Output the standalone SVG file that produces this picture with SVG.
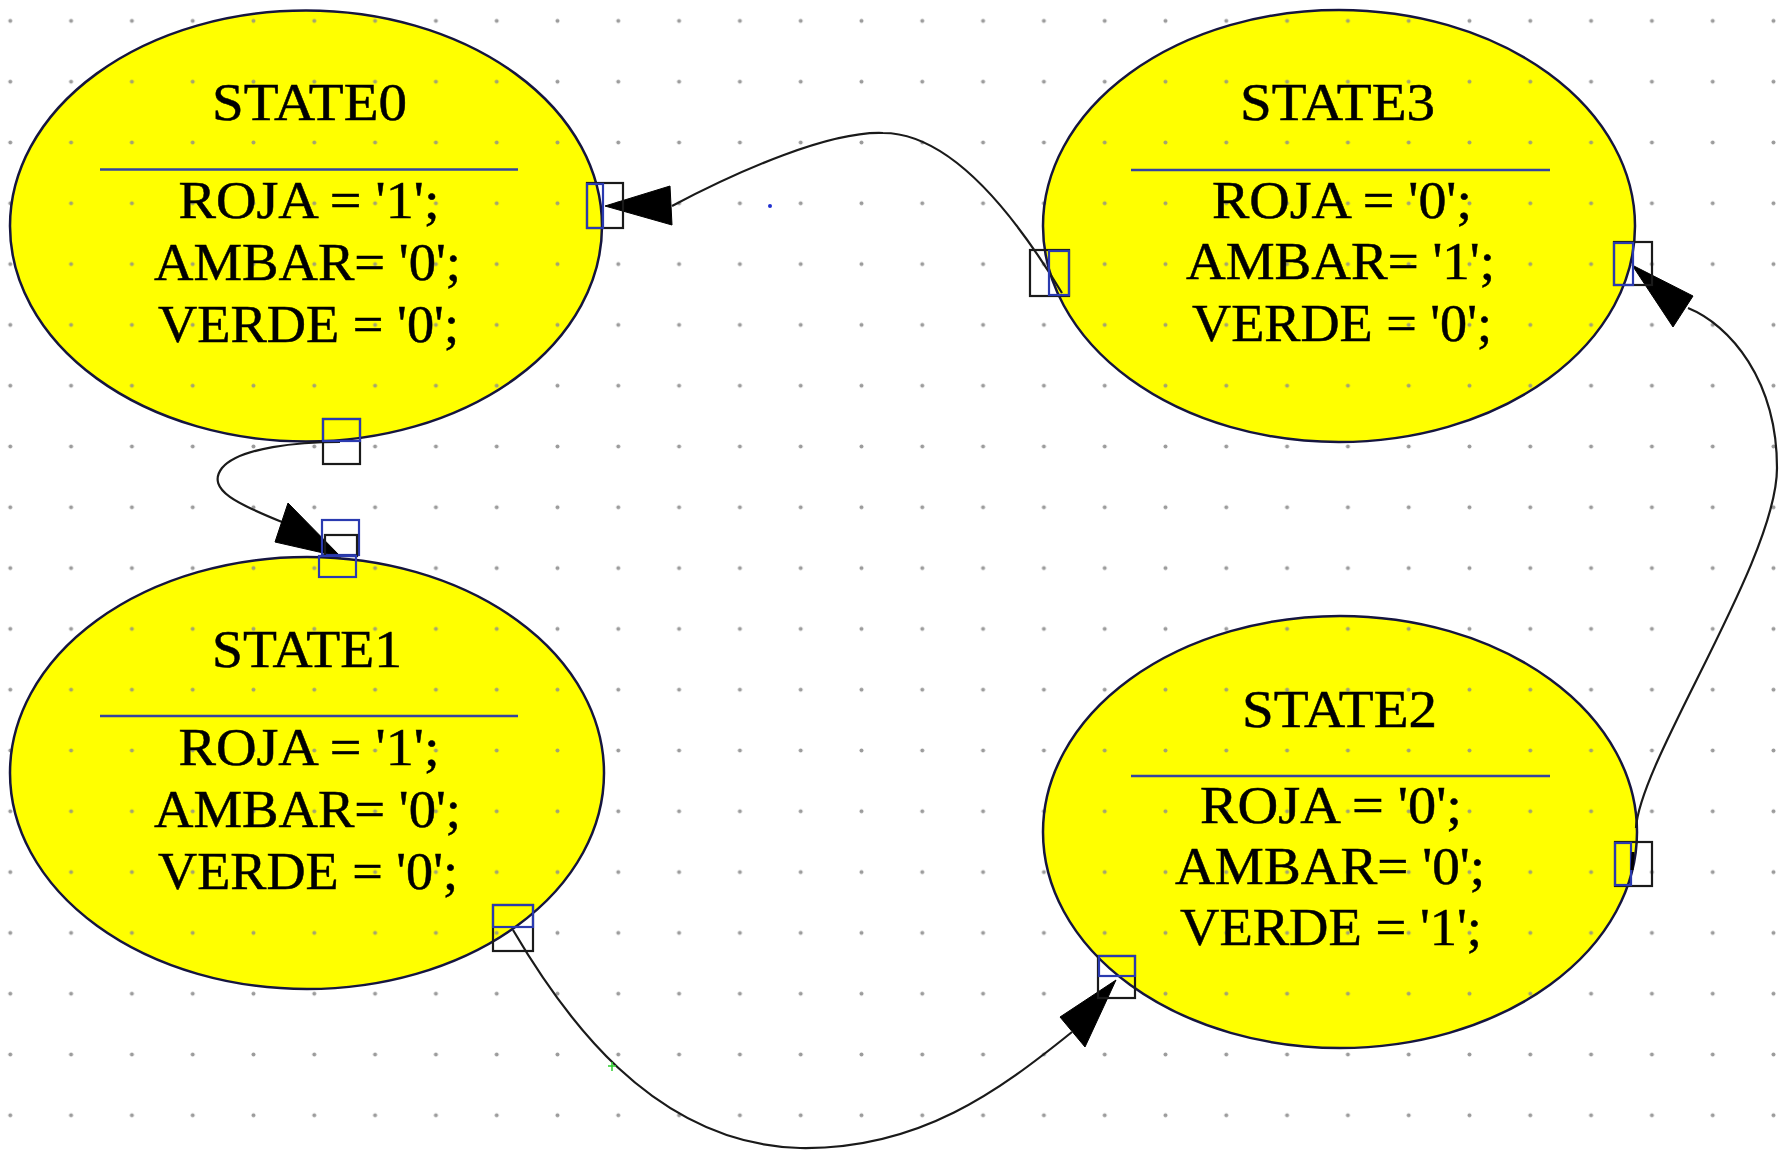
<svg xmlns="http://www.w3.org/2000/svg" width="1782" height="1151" viewBox="0 0 1782 1151">
<defs>
<pattern id="gridW" patternUnits="userSpaceOnUse" x="-20.1" y="-9.5" width="60.8" height="60.8">
<rect width="60.8" height="60.8" fill="#ffffff"/>
<circle cx="30.4" cy="30.4" r="2" fill="#9c9c9c"/>
</pattern>
<pattern id="gridY" patternUnits="userSpaceOnUse" x="-20.1" y="-9.5" width="60.8" height="60.8">
<rect width="60.8" height="60.8" fill="#ffff00"/>
<circle cx="30.4" cy="30.4" r="2" fill="#a4a470"/>
</pattern>
<style>
.ell{fill:url(#gridY);stroke:#15153f;stroke-width:2.5}
.div{stroke:#3444a0;stroke-width:2.5}
text{font-family:"Liberation Serif","Times New Roman",serif;font-size:52px;fill:#000;stroke:#000;stroke-width:0.5}
.pb{fill:none;stroke:#1a1a1a;stroke-width:2.2}
.pu{fill:none;stroke:#2a3ab0;stroke-width:2.2}
.wire{fill:none;stroke:#1a1a1a;stroke-width:2.2}
.head{fill:#000;stroke:#000;stroke-width:1}
</style>
</defs>
<rect x="0" y="0" width="1782" height="1151" fill="url(#gridW)"/>

<g id="state0">
<ellipse class="ell" cx="306" cy="226" rx="296" ry="215.5"/>
<text x="212" y="120" textLength="195" lengthAdjust="spacingAndGlyphs">STATE0</text>
<line class="div" x1="100" y1="169.5" x2="518" y2="169.5"/>
<text x="178.5" y="218" textLength="261" lengthAdjust="spacingAndGlyphs">ROJA = '1';</text>
<text x="154" y="280" textLength="307" lengthAdjust="spacingAndGlyphs">AMBAR= '0';</text>
<text x="158" y="342" textLength="301" lengthAdjust="spacingAndGlyphs">VERDE = '0';</text>
</g>

<g id="state3">
<ellipse class="ell" cx="1339" cy="226" rx="296" ry="216"/>
<text x="1240" y="120" textLength="195" lengthAdjust="spacingAndGlyphs">STATE3</text>
<line class="div" x1="1131" y1="170" x2="1550" y2="170"/>
<text x="1212" y="217.5" textLength="260" lengthAdjust="spacingAndGlyphs">ROJA = '0';</text>
<text x="1186" y="279" textLength="309" lengthAdjust="spacingAndGlyphs">AMBAR= '1';</text>
<text x="1192" y="341" textLength="300" lengthAdjust="spacingAndGlyphs">VERDE = '0';</text>
</g>

<g id="state1">
<ellipse class="ell" cx="307" cy="773" rx="297" ry="216"/>
<text x="212" y="667" textLength="190" lengthAdjust="spacingAndGlyphs">STATE1</text>
<line class="div" x1="100" y1="716" x2="518" y2="716"/>
<text x="178.5" y="765" textLength="261" lengthAdjust="spacingAndGlyphs">ROJA = '1';</text>
<text x="154" y="827" textLength="307" lengthAdjust="spacingAndGlyphs">AMBAR= '0';</text>
<text x="158" y="889" textLength="300" lengthAdjust="spacingAndGlyphs">VERDE = '0';</text>
</g>

<g id="state2">
<ellipse class="ell" cx="1340" cy="832" rx="297" ry="216"/>
<text x="1242" y="727" textLength="195" lengthAdjust="spacingAndGlyphs">STATE2</text>
<line class="div" x1="1131" y1="776" x2="1550" y2="776"/>
<text x="1200" y="823" textLength="262" lengthAdjust="spacingAndGlyphs">ROJA = '0';</text>
<text x="1175" y="884" textLength="310" lengthAdjust="spacingAndGlyphs">AMBAR= '0';</text>
<text x="1180" y="945" textLength="302" lengthAdjust="spacingAndGlyphs">VERDE = '1';</text>
</g>

<g id="connectors">
<path class="wire" d="M1062,293 C1030,240 960,133 883,133 C830,131 740,170 672,206"/>
<polygon class="head" points="605,206 670,186 672,225"/>
<path class="wire" d="M340,442 C300,442 240,447 222,468 C205,490 240,505 282,522"/>
<polygon class="head" points="288,503 275,542 341,557"/>
<path class="wire" d="M513,930 C560,1010 650,1144 800,1148 C920,1150 1000,1090 1072,1032"/>
<polygon class="head" points="1060,1017 1085,1047 1116,980"/>
<path class="wire" d="M1636,828 C1640,760 1777,560 1777,468 C1777,380 1730,325 1688,308"/>
<polygon class="head" points="1632,265 1693,296 1673,327"/>

<rect class="pb" x="587" y="183" width="36" height="45"/>
<rect class="pu" x="587" y="184" width="16" height="44"/>
<rect class="pb" x="1030" y="250" width="39" height="46"/>
<rect class="pu" x="1049" y="251" width="20" height="44"/>
<rect class="pb" x="1614" y="242" width="38" height="43"/>
<rect class="pu" x="1614" y="243" width="19" height="42"/>
<rect class="pb" x="1615" y="842" width="37" height="44"/>
<rect class="pu" x="1615" y="843" width="16" height="42"/>
<line x1="1633" y1="852" x2="1632" y2="870" stroke="#000" stroke-width="3"/>
<rect class="pb" x="1098" y="956" width="37" height="42"/>
<rect class="pu" x="1099" y="956" width="36" height="20"/>
<rect class="pb" x="493" y="905" width="40" height="46"/>
<rect class="pu" x="493" y="905" width="40" height="22"/>
<rect class="pb" x="323" y="419" width="37" height="45"/>
<rect class="pu" x="323" y="419" width="37" height="22"/>
<rect class="pu" x="322" y="520" width="37" height="35"/>
<rect class="pb" x="325" y="535" width="32" height="21"/>
<rect class="pu" x="319" y="556" width="37" height="21"/>
<circle cx="770" cy="206" r="2" fill="#2030d0"/>
<path d="M608,1066 L616,1066 M612,1062 L612,1071" stroke="#30d030" stroke-width="1.5" fill="none"/>
</g>
</svg>
